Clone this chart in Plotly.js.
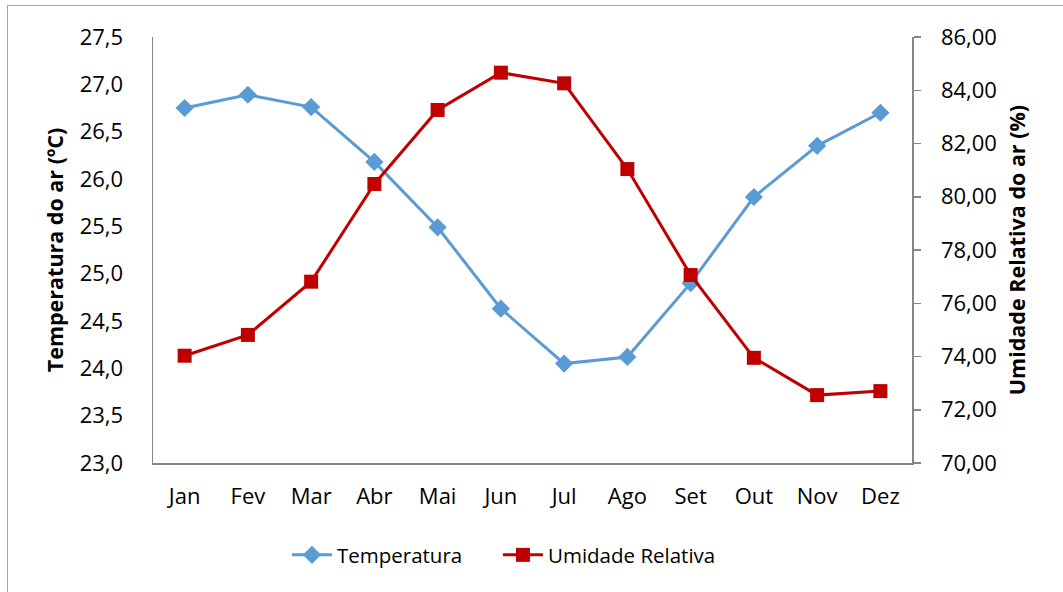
<!DOCTYPE html>
<html>
<head>
<meta charset="utf-8">
<script src="https://cdn.plot.ly/plotly-3.0.1.min.js"></script>
<style>
html,body{margin:0;padding:0;background:#fff;}
#chart{width:1063px;height:592px;}
#frame{position:absolute;left:7px;top:5px;width:1070px;height:600px;border:1.5px solid #a6a6a6;pointer-events:none;}
</style>
</head>
<body>
<div id="chart"></div>
<div id="frame"></div>
<script>
const months = ["Jan","Fev","Mar","Abr","Mai","Jun","Jul","Ago","Set","Out","Nov","Dez"];
const temperatura = [26.75,26.89,26.76,26.18,25.49,24.63,24.05,24.12,24.90,25.81,26.35,26.70];
const umidade = [74.03,74.81,76.81,80.48,83.26,84.66,84.26,81.04,77.06,73.95,72.55,72.70];
const leftTicks = [23.0,23.5,24.0,24.5,25.0,25.5,26.0,26.5,27.0,27.5];
const rightTicks = [70,72,74,76,78,80,82,84,86];

const font = "'Open Sans', sans-serif";

const traces = [
  {x: months, y: temperatura, name: "Temperatura", type: "scatter", mode: "lines+markers",
   line: {color: "#5b9bd5", width: 3}, marker: {symbol: "diamond", size: 14, color: "#5b9bd5"},
   yaxis: "y", legend: "legend"},
  {x: months, y: umidade, name: "Umidade Relativa", type: "scatter", mode: "lines+markers",
   line: {color: "#c00000", width: 3}, marker: {symbol: "square", size: 14, color: "#c00000"},
   yaxis: "y2", legend: "legend2"}
];

const legendBase = {orientation: "h", xanchor: "left", y: -0.216, yanchor: "middle",
                    font: {family: font, size: 20.5, color: "#000"}, itemwidth: 40, bgcolor: "rgba(0,0,0,0)"};

const layout = {
  width: 1063, height: 592,
  margin: {l: 153, r: 151, t: 37, b: 129},
  paper_bgcolor: "#fff", plot_bgcolor: "#fff",
  font: {family: font, size: 22, color: "#000"},
  showlegend: true,
  legend: Object.assign({}, legendBase, {x: 0.1765}),
  legend2: Object.assign({}, legendBase, {x: 0.4545}),
  xaxis: {type: "category", range: [-0.5, 11.5], showline: true, linecolor: "#868686", linewidth: 1.5,
          ticks: "outside", ticklen: 13, tickcolor: "rgba(0,0,0,0)", showgrid: false, zeroline: false,
          tickfont: {family: font, size: 22}},
  yaxis: {range: [23, 27.5], tickvals: leftTicks, ticktext: leftTicks.map(v => v.toFixed(1).replace(".", ",")),
          showline: true, linecolor: "#868686", linewidth: 1.5, showgrid: false, zeroline: false,
          ticks: "outside", ticklen: 24, tickcolor: "rgba(0,0,0,0)", tickfont: {family: font, size: 22},
          title: {text: "Temperatura do ar (ºC)", font: {family: font, size: 21.5, weight: "bold"}, standoff: 10}},
  yaxis2: {range: [70, 86], overlaying: "y", side: "right", tickvals: rightTicks,
           ticktext: rightTicks.map(v => v.toFixed(2).replace(".", ",")),
           showline: true, linecolor: "#868686", linewidth: 1.5, showgrid: false, zeroline: false,
           ticks: "outside", ticklen: 7, tickcolor: "#868686", tickwidth: 1.5, ticklabelstandoff: 16,
           tickfont: {family: font, size: 22},
           title: {text: "Umidade Relativa do ar (%)", font: {family: font, size: 21.5, weight: "bold"}, standoff: 14}}
};

Plotly.newPlot("chart", traces, layout, {displayModeBar: false, staticPlot: true});
</script>
</body>
</html>
